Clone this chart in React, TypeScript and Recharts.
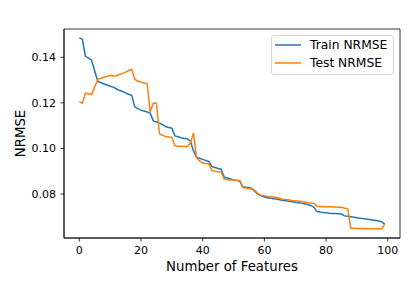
import React from "react";
import { LineChart, Line, XAxis, YAxis, Legend, ReferenceArea } from "recharts";

// Train / test NRMSE per number of features (index 0..99)
const trainNrmse = [
  0.1485, 0.1479, 0.1404, 0.1396, 0.1387, 0.134, 0.1295, 0.1288, 0.1283, 0.1278,
  0.1273, 0.1269, 0.1262, 0.1255, 0.125, 0.1244, 0.1238, 0.1233, 0.1182, 0.1175,
  0.1168, 0.1164, 0.116, 0.1155, 0.1121, 0.1116, 0.1111, 0.1104, 0.1096, 0.1092,
  0.1089, 0.1055, 0.1051, 0.1047, 0.1044, 0.1042, 0.1033, 0.099, 0.0962, 0.0957,
  0.0952, 0.0947, 0.0942, 0.092, 0.0916, 0.0912, 0.0909, 0.0874, 0.087, 0.0866,
  0.0862, 0.0859, 0.0857, 0.0832, 0.083, 0.0828, 0.0825, 0.081, 0.0798, 0.0792,
  0.0787, 0.0784, 0.0781, 0.0779, 0.0778, 0.0775, 0.0772, 0.077, 0.0768, 0.0766,
  0.0764, 0.0762, 0.076, 0.0757, 0.0754, 0.075, 0.0743, 0.0724, 0.0721, 0.0719,
  0.0718, 0.0716, 0.0715, 0.0714, 0.0713, 0.0712, 0.0704, 0.0702, 0.07, 0.0698,
  0.0696, 0.0694, 0.0692, 0.069, 0.0688, 0.0686, 0.0684, 0.0682, 0.0679, 0.0668,
];

const testNrmse = [
  0.1204, 0.1198, 0.1243, 0.124, 0.1236, 0.127, 0.1303, 0.1308, 0.1312, 0.1316,
  0.1321, 0.1318, 0.1319, 0.1324, 0.1328, 0.1335, 0.1341, 0.1347, 0.1303, 0.1296,
  0.1291, 0.1287, 0.1284, 0.116, 0.1198, 0.1198, 0.1064, 0.1058, 0.1052, 0.105,
  0.1049, 0.1012, 0.101, 0.101, 0.1009, 0.1008, 0.1023, 0.1068, 0.0961, 0.0945,
  0.0936, 0.0934, 0.0932, 0.0903, 0.09, 0.0898, 0.0896, 0.0865, 0.0864, 0.0862,
  0.0861, 0.086, 0.0859, 0.0828, 0.0826, 0.0824, 0.0822, 0.0815, 0.08, 0.0795,
  0.0792, 0.0789, 0.0788, 0.0787, 0.0785, 0.078, 0.0777, 0.0776, 0.0774, 0.0772,
  0.0771, 0.0769, 0.0767, 0.0765, 0.0763, 0.0761, 0.076, 0.0746, 0.0745, 0.0745,
  0.0744, 0.0744, 0.0744, 0.0743, 0.0742, 0.0742, 0.0738, 0.0736, 0.065, 0.065,
  0.0649, 0.0649, 0.0649, 0.0648, 0.0648, 0.0648, 0.0648, 0.0647, 0.0647, 0.0668,
];

const xTicks = [0, 20, 40, 60, 80, 100];
const yTicks = [0.08, 0.1, 0.12, 0.14];
const seriesNames = ["Train NRMSE", "Test NRMSE"];

const BLUE = "#1f77b4";
const ORANGE = "#ff7f0e";
const FONT = "'DejaVu Sans', sans-serif";

const X_DOMAIN: [number, number] = [-4.95, 103.95];
const Y_DOMAIN: [number, number] = [0.0607, 0.1524];

const data = trainNrmse.map((train, i) => ({
  features: i,
  train,
  test: testNrmse[i],
}));

const spine = { stroke: "#000", strokeWidth: 0.8 };
const tickStyle = { fontSize: 11, fill: "#000", fontFamily: FONT };

// matplotlib-style legend box in the upper right corner
function MplLegend() {
  const rows = [
    { name: seriesNames[0], color: BLUE },
    { name: seriesNames[1], color: ORANGE },
  ];
  return (
    <div
      style={{
        width: 121,
        height: 38,
        border: "1px solid #d6d6d6",
        borderRadius: 3,
        background: "#fff",
        fontFamily: FONT,
        fontSize: 12.3,
        color: "#000",
      }}
    >
      {rows.map((r) => (
        <div
          key={r.name}
          style={{ height: 18, display: "flex", alignItems: "center", lineHeight: "18px" }}
        >
          <svg width={26} height={4} style={{ marginLeft: 3, marginRight: 9 }}>
            <line x1={0} x2={26} y1={2} y2={2} stroke={r.color} strokeWidth={1.5} />
          </svg>
          <span style={{ whiteSpace: "nowrap" }}>{r.name}</span>
        </div>
      ))}
    </div>
  );
}

export default function App() {
  return (
    <div style={{ position: "absolute", left: 0, top: 0, width: 415, height: 297, background: "#fff" }}>
      <LineChart
        width={415}
        height={297}
        data={data}
        margin={{ top: 29, right: 15, bottom: 0, left: 0 }}
      >
        <XAxis
          dataKey="features"
          type="number"
          domain={X_DOMAIN}
          ticks={xTicks}
          allowDataOverflow
          height={59}
          axisLine={spine}
          tickLine={spine}
          tickSize={3.5}
          tickMargin={5}
          tick={tickStyle}
          label={{
            content: (props: any) => {
              const vb = props.viewBox;
              return (
                <text
                  x={vb.x + vb.width / 2}
                  y={vb.y + 33}
                  textAnchor="middle"
                  fontSize={13.3}
                  fontFamily={FONT}
                  fill="#000"
                >
                  Number of Features
                </text>
              );
            },
          }}
        />
        <YAxis
          type="number"
          domain={Y_DOMAIN}
          ticks={yTicks}
          allowDataOverflow
          width={64}
          axisLine={spine}
          tickLine={spine}
          tickSize={3.5}
          tickMargin={4.5}
          tick={tickStyle}
          tickFormatter={(v: number) => v.toFixed(2)}
          label={{
            content: (props: any) => {
              const vb = props.viewBox;
              const cx = vb.x + 20.5;
              const cy = vb.y + vb.height / 2;
              return (
                <text
                  x={cx}
                  y={cy}
                  transform={`rotate(-90 ${cx} ${cy})`}
                  textAnchor="middle"
                  dominantBaseline="central"
                  fontSize={13.3}
                  fontFamily={FONT}
                  fill="#000"
                >
                  NRMSE
                </text>
              );
            },
          }}
        />
        {/* full frame (top and right spines) */}
        <ReferenceArea
          x1={X_DOMAIN[0]}
          x2={X_DOMAIN[1]}
          y1={Y_DOMAIN[0]}
          y2={Y_DOMAIN[1]}
          fill="none"
          fillOpacity={0}
          stroke="#000"
          strokeWidth={0.8}
          ifOverflow="visible"
        />
        <Line
          dataKey="train"
          name={seriesNames[0]}
          type="linear"
          stroke={BLUE}
          strokeWidth={1.5}
          dot={false}
          isAnimationActive={false}
        />
        <Line
          dataKey="test"
          name={seriesNames[1]}
          type="linear"
          stroke={ORANGE}
          strokeWidth={1.5}
          dot={false}
          isAnimationActive={false}
        />
        <Legend
          layout="vertical"
          align="center"
          verticalAlign="middle"
          content={() => <MplLegend />}
          wrapperStyle={{ top: 35, left: 271, width: 123, height: 40 }}
        />
      </LineChart>
    </div>
  );
}
